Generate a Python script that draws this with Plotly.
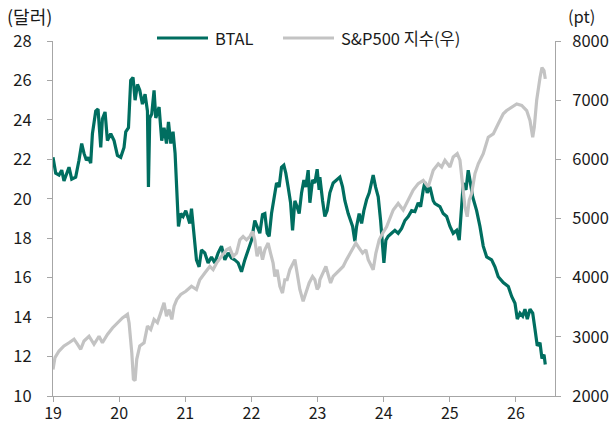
import plotly.graph_objects as go

# ---- data (decimal years) ----
btal_x = [2019.000, 2019.041, 2019.091, 2019.132, 2019.166, 2019.203, 2019.242, 2019.283, 2019.343, 2019.393,
          2019.434, 2019.469, 2019.505, 2019.536, 2019.570, 2019.596, 2019.646, 2019.681, 2019.722, 2019.747,
          2019.787, 2019.823, 2019.873, 2019.923, 2019.974, 2020.024, 2020.074, 2020.100, 2020.141, 2020.175,
          2020.210, 2020.241, 2020.277, 2020.312, 2020.352, 2020.392, 2020.428, 2020.443, 2020.463, 2020.493,
          2020.528, 2020.554, 2020.604, 2020.644, 2020.679, 2020.716, 2020.746, 2020.781, 2020.815, 2020.846,
          2020.871, 2020.897, 2020.932, 2020.967, 2021.008, 2021.068, 2021.094, 2021.129, 2021.169, 2021.209,
          2021.245, 2021.295, 2021.345, 2021.396, 2021.446, 2021.496, 2021.548, 2021.598, 2021.648, 2021.699,
          2021.749, 2021.799, 2021.850, 2021.900, 2021.950, 2022.002, 2022.051, 2022.086, 2022.127, 2022.168,
          2022.203, 2022.238, 2022.268, 2022.304, 2022.339, 2022.380, 2022.419, 2022.455, 2022.490, 2022.520,
          2022.555, 2022.592, 2022.622, 2022.657, 2022.691, 2022.722, 2022.758, 2022.793, 2022.823, 2022.858,
          2022.884, 2022.924, 2022.959, 2022.994, 2023.024, 2023.035, 2023.076, 2023.110, 2023.145, 2023.186,
          2023.236, 2023.287, 2023.337, 2023.378, 2023.413, 2023.463, 2023.499, 2023.530, 2023.564, 2023.590,
          2023.629, 2023.666, 2023.700, 2023.741, 2023.781, 2023.817, 2023.841, 2023.877, 2023.917, 2023.953,
          2023.983, 2024.003, 2024.033, 2024.068, 2024.119, 2024.169, 2024.219, 2024.271, 2024.321, 2024.371,
          2024.422, 2024.472, 2024.522, 2024.558, 2024.598, 2024.623, 2024.658, 2024.699, 2024.749, 2024.775,
          2024.850, 2024.900, 2024.952, 2025.002, 2025.051, 2025.103, 2025.142, 2025.179, 2025.203, 2025.244,
          2025.278, 2025.304, 2025.345, 2025.405, 2025.455, 2025.505, 2025.557, 2025.632, 2025.682, 2025.732,
          2025.808, 2025.884, 2025.935, 2025.985, 2026.020, 2026.060, 2026.101, 2026.136, 2026.171, 2026.212,
          2026.253, 2026.287, 2026.322, 2026.363, 2026.393, 2026.424, 2026.443]
btal_y = [22.1, 21.3, 21.2, 21.45, 20.9, 21.3, 21.6, 21.0, 21.1, 21.95,
          22.8, 22.3, 21.95, 22.1, 21.8, 23.3, 24.45, 24.55, 22.6, 24.05,
          24.4, 22.95, 23.3, 22.95, 22.2, 22.1, 22.6, 23.4, 23.6, 26.0,
          26.15, 25.0, 25.8, 25.5, 24.8, 25.3, 24.45, 20.6, 24.1, 24.3,
          25.5, 24.1, 24.65, 22.95, 23.6, 22.8, 23.9, 22.8, 23.4, 22.3,
          20.3, 18.6, 19.25, 19.1, 19.4, 18.75, 19.5, 18.4, 16.9, 16.55,
          17.4, 17.25, 16.75, 17.05, 16.75, 17.25, 17.6, 16.9, 17.25, 17.0,
          16.9, 16.75, 16.3, 16.9, 17.4, 17.9, 18.9, 18.6, 18.25, 19.2,
          19.25, 18.25, 18.1, 19.25, 19.95, 20.8, 20.6, 21.6, 21.7, 21.3,
          20.6, 19.8, 18.4, 19.9, 19.6, 19.25, 20.3, 20.95, 20.6, 21.45,
          19.8, 20.95, 20.8, 21.5, 20.45, 21.1, 19.9, 19.1, 19.4, 20.3,
          20.8, 20.95, 21.1, 20.6, 19.9, 19.25, 18.9, 18.6, 17.85, 18.6,
          19.25, 18.75, 19.4, 19.95, 20.3, 20.95, 21.2, 20.6, 20.1, 18.9,
          17.6, 16.75, 17.9, 18.1, 18.25, 18.4, 18.25, 18.5, 18.9, 19.1,
          19.4, 19.35, 19.8, 19.6, 20.45, 20.85, 20.3, 20.6, 19.9, 19.75,
          19.6, 19.25, 19.1, 18.6, 18.25, 18.4, 17.9, 19.4, 20.8, 20.45,
          21.45, 20.95, 20.1, 19.4, 18.6, 17.6, 17.05, 16.9, 16.55, 16.05,
          15.75, 15.55, 15.05, 14.7, 13.9, 14.2, 14.05, 14.4, 13.9, 14.4,
          14.2, 13.4, 12.55, 12.7, 11.9, 12.1, 11.6]

spx_x = [2019.000, 2019.030, 2019.091, 2019.166, 2019.242, 2019.318, 2019.369, 2019.419, 2019.469, 2019.545,
         2019.620, 2019.696, 2019.747, 2019.823, 2019.899, 2019.974, 2020.050, 2020.126, 2020.150, 2020.191,
         2020.216, 2020.241, 2020.266, 2020.312, 2020.377, 2020.428, 2020.478, 2020.528, 2020.579, 2020.629,
         2020.679, 2020.716, 2020.755, 2020.796, 2020.831, 2020.871, 2020.932, 2021.008, 2021.094, 2021.169,
         2021.219, 2021.295, 2021.371, 2021.421, 2021.472, 2021.548, 2021.623, 2021.673, 2021.723, 2021.775,
         2021.825, 2021.874, 2021.926, 2021.976, 2022.017, 2022.051, 2022.086, 2022.127, 2022.168, 2022.203,
         2022.253, 2022.289, 2022.328, 2022.354, 2022.389, 2022.430, 2022.470, 2022.505, 2022.540, 2022.581,
         2022.622, 2022.657, 2022.691, 2022.732, 2022.782, 2022.823, 2022.873, 2022.924, 2022.959, 2022.994,
         2023.024, 2023.035, 2023.085, 2023.126, 2023.161, 2023.197, 2023.236, 2023.287, 2023.337, 2023.387,
         2023.439, 2023.478, 2023.530, 2023.579, 2023.629, 2023.681, 2023.731, 2023.766, 2023.817, 2023.841,
         2023.882, 2023.932, 2023.983, 2024.044, 2024.144, 2024.219, 2024.295, 2024.371, 2024.446, 2024.522,
         2024.598, 2024.673, 2024.749, 2024.825, 2024.876, 2024.926, 2025.002, 2025.051, 2025.112, 2025.153,
         2025.193, 2025.228, 2025.263, 2025.293, 2025.330, 2025.380, 2025.430, 2025.505, 2025.581, 2025.657,
         2025.732, 2025.808, 2025.859, 2025.935, 2026.011, 2026.086, 2026.162, 2026.212, 2026.253, 2026.277,
         2026.313, 2026.363, 2026.393, 2026.424, 2026.443]
spx_y = [2450, 2650, 2760, 2845, 2900, 2960, 2875, 2790, 2930, 3010,
         2875, 3010, 2900, 3040, 3150, 3240, 3320, 3380, 3240, 2735,
         2285, 2260, 2620, 2845, 2900, 3180, 3125, 3295, 3240, 3405,
         3575, 3350, 3460, 3295, 3520, 3630, 3715, 3770, 3855, 3800,
         3965, 4080, 4190, 4135, 4245, 4360, 4470, 4500, 4360, 4415,
         4640, 4695, 4640, 4695, 4780, 4640, 4360, 4525, 4305, 4470,
         4585, 4415, 4245, 4020, 4135, 3855, 3740, 3965, 3965, 4135,
         4245, 4305, 4080, 3800, 3600, 3740, 3910, 4020, 3965, 3800,
         3855, 3965, 4080, 4190, 4050, 3910, 4020, 4080, 4135, 4190,
         4305, 4385, 4470, 4585, 4500, 4415, 4470, 4305, 4190, 4135,
         4415, 4640, 4750, 4860, 5145, 5255, 5145, 5310, 5480, 5590,
         5645, 5535, 5815, 5925, 5870, 5985, 5870, 6040, 6095, 5985,
         5535, 5200, 5030, 5310, 5425, 5760, 5925, 6095, 6375, 6430,
         6600, 6770, 6825, 6880, 6935, 6910, 6825, 6655, 6375, 6545,
         7000, 7380, 7550, 7500, 7360]

year_ticks = [2019, 2020, 2021, 2022, 2023, 2024, 2025, 2026]
year_labels = ["19", "20", "21", "22", "23", "24", "25", "26"]
series_names = ["BTAL", "S&P500 지수(우)"]

FONT = "Noto Sans CJK KR, Noto Sans, sans-serif"
FS = 16.5
TEAL = "#006E60"
GRAY = "#C3C3C3"
AXC = "#A6A6A6"
TXT = "#1A1A1A"

fig = go.Figure()
fig.add_trace(go.Scatter(x=btal_x, y=btal_y, mode="lines", name=series_names[0],
                         line=dict(color=TEAL, width=3.2), yaxis="y", showlegend=False))
fig.add_trace(go.Scatter(x=spx_x, y=spx_y, mode="lines", name=series_names[1],
                         line=dict(color=GRAY, width=3.2), yaxis="y2", showlegend=False))

axis_common = dict(showline=True, linecolor=AXC, linewidth=1, ticks="outside", ticklen=5,
                   tickcolor=AXC, tickwidth=1, showgrid=False, zeroline=False, automargin=False,
                   tickfont=dict(family=FONT, size=FS, color=TXT))

fig.update_layout(
    width=613, height=425,
    margin=dict(l=53, r=58, t=41, b=29),
    paper_bgcolor="white", plot_bgcolor="white",
    font=dict(family=FONT, size=FS, color=TXT),
    xaxis=dict(range=[2019, 2026.59], tickvals=year_ticks, ticktext=year_labels,
               ticklabelstandoff=-2, **axis_common),
    yaxis=dict(range=[10, 28], dtick=2, tick0=10, ticklabelstandoff=12, **axis_common),
    yaxis2=dict(range=[2000, 8000], dtick=1000, tick0=2000, overlaying="y", side="right",
                ticklabelstandoff=8, **axis_common),
)
fig.update_xaxes(tickfont=dict(family=FONT, size=16, color=TXT))

# manual legend (paper coords)
def px_x(p):
    return (p - 53) / 502.0

def px_y(p):
    return (396 - p) / 355.0

ly = px_y(38)
fig.add_shape(type="line", xref="paper", yref="paper", x0=px_x(157), x1=px_x(208), y0=ly, y1=ly,
              line=dict(color=TEAL, width=3))
fig.add_shape(type="line", xref="paper", yref="paper", x0=px_x(283), x1=px_x(334), y0=ly, y1=ly,
              line=dict(color=GRAY, width=3))
fig.add_annotation(xref="paper", yref="paper", x=px_x(213), y=ly, text=series_names[0], showarrow=False,
                   xanchor="left", yanchor="middle", font=dict(family=FONT, size=FS, color=TXT))
fig.add_annotation(xref="paper", yref="paper", x=px_x(339), y=ly, text=series_names[1], showarrow=False,
                   xanchor="left", yanchor="middle", font=dict(family=FONT, size=FS, color=TXT))
fig.add_annotation(xref="paper", yref="paper", x=px_x(5), y=px_y(16), text="(달러)", showarrow=False,
                   xanchor="left", yanchor="middle", font=dict(family=FONT, size=18, color=TXT))
fig.add_annotation(xref="paper", yref="paper", x=px_x(566), y=px_y(16), text="(pt)", showarrow=False,
                   xanchor="left", yanchor="middle", font=dict(family=FONT, size=FS, color=TXT))

fig.write_html("out.html", config={"displayModeBar": False},
               post_script="document.body.style.margin='0';document.body.style.overflow='hidden';")
